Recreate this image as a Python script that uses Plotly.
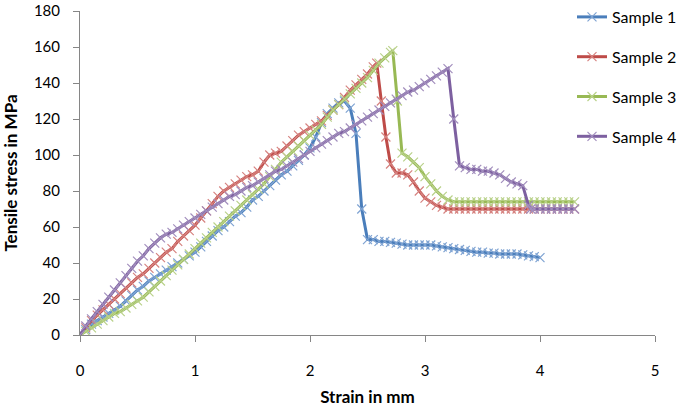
import plotly.graph_objects as go

# ---- Data ----
s1_x = [0, 0.05, 0.1, 0.15, 0.2, 0.25, 0.3, 0.35, 0.4, 0.45, 0.5, 0.55, 0.6, 0.65, 0.7, 0.75, 0.8, 0.85, 0.9, 0.95,
        1.0, 1.05, 1.1, 1.15, 1.2, 1.25, 1.3, 1.35, 1.4, 1.45, 1.5, 1.55, 1.6, 1.65, 1.7, 1.75, 1.8, 1.85, 1.9, 1.95,
        2.0, 2.05, 2.1, 2.15, 2.2, 2.25, 2.3, 2.35, 2.4, 2.45, 2.5, 2.55, 2.6, 2.65, 2.7, 2.75, 2.8, 2.85, 2.9, 2.95,
        3.0, 3.05, 3.1, 3.15, 3.2, 3.25, 3.3, 3.35, 3.4, 3.45, 3.5, 3.55, 3.6, 3.65, 3.7, 3.75, 3.8, 3.85, 3.9, 3.95, 4.0]
s1_y = [0, 3, 6, 8, 10, 12, 14, 16, 19, 22, 25, 27, 30, 32, 34, 36, 38, 40, 42, 44,
        46, 49, 52, 55, 58, 60, 63, 66, 68, 71, 75, 77, 80, 83, 86, 89, 91, 94, 97, 100,
        104, 110, 118, 123, 126, 129, 130, 126, 112, 70, 53, 53, 52, 52, 51.5, 51, 50.5, 50, 50, 50,
        50, 50, 49.5, 49, 48.5, 48, 47.5, 47, 46.5, 46, 46, 45.5, 45.5, 45, 45, 45, 45, 44.5, 44, 43.5, 43]

s2_x = [0, 0.05, 0.1, 0.15, 0.2, 0.25, 0.3, 0.35, 0.4, 0.45, 0.5, 0.55, 0.6, 0.65, 0.7, 0.75, 0.8, 0.85, 0.9, 0.95,
        1.0, 1.05, 1.1, 1.15, 1.2, 1.25, 1.3, 1.35, 1.4, 1.45, 1.5, 1.55, 1.6, 1.65, 1.7, 1.75, 1.8, 1.85, 1.9, 1.95,
        2.0, 2.05, 2.1, 2.15, 2.2, 2.25, 2.3, 2.35, 2.4, 2.45, 2.5, 2.55, 2.58, 2.62, 2.66, 2.7, 2.75, 2.8, 2.85, 2.9,
        2.95, 3.0, 3.05, 3.1, 3.15, 3.2, 3.25, 3.3, 3.35, 3.4, 3.45, 3.5, 3.55, 3.6, 3.65, 3.7, 3.75, 3.8, 3.85, 3.9,
        3.95, 4.0, 4.05, 4.1, 4.15, 4.2, 4.25, 4.3]
s2_y = [0, 4, 8, 11, 14, 17, 20, 23, 26, 29, 32, 34, 37, 40, 43, 46, 48, 52, 55, 58,
        61, 65, 69, 73, 77, 80, 82, 84, 86, 88, 89, 91, 96, 100, 101, 102, 105, 108, 111, 113,
        115, 117, 119, 122, 125, 128, 132, 136, 139, 142, 145, 149, 151, 130, 110, 95, 90, 90, 89, 85,
        80, 76, 74, 72, 71, 70, 70, 70, 70, 70, 70, 70, 70, 70, 70, 70, 70, 70, 70, 70,
        70, 70, 70, 70, 70, 70, 70, 70]

s3_x = [0, 0.05, 0.1, 0.15, 0.2, 0.25, 0.3, 0.35, 0.4, 0.45, 0.5, 0.55, 0.6, 0.65, 0.7, 0.75, 0.8, 0.85, 0.9, 0.95,
        1.0, 1.05, 1.1, 1.15, 1.2, 1.25, 1.3, 1.35, 1.4, 1.45, 1.5, 1.55, 1.6, 1.65, 1.7, 1.75, 1.8, 1.85, 1.9, 1.95,
        2.0, 2.05, 2.1, 2.15, 2.2, 2.25, 2.3, 2.35, 2.4, 2.45, 2.5, 2.55, 2.6, 2.65, 2.7, 2.72, 2.76, 2.8, 2.85, 2.9,
        2.95, 3.0, 3.05, 3.1, 3.15, 3.2, 3.25, 3.3, 3.35, 3.4, 3.45, 3.5, 3.55, 3.6, 3.65, 3.7, 3.75, 3.8, 3.85, 3.9,
        3.95, 4.0, 4.05, 4.1, 4.15, 4.2, 4.25, 4.3]
s3_y = [0, 2, 4, 6, 8, 10, 12, 13, 15, 17, 19, 21, 24, 27, 30, 33, 36, 39, 42, 45,
        48, 51, 54, 57, 60, 63, 66, 69, 72, 75, 78, 81, 84, 88, 92, 96, 99, 102, 105, 108,
        111, 114, 117, 121, 125, 128, 131, 134, 137, 140, 143, 147, 151, 154, 157, 158, 130, 101, 99, 96,
        93, 88, 84, 80, 77, 75, 74, 74, 74, 74, 74, 74, 74, 74, 74, 74, 74, 74, 74, 74,
        74, 74, 74, 74, 74, 74, 74, 74]

s4_x = [0, 0.05, 0.1, 0.15, 0.2, 0.25, 0.3, 0.35, 0.4, 0.45, 0.5, 0.55, 0.6, 0.65, 0.7, 0.75, 0.8, 0.85, 0.9, 0.95,
        1.0, 1.05, 1.1, 1.15, 1.2, 1.25, 1.3, 1.35, 1.4, 1.45, 1.5, 1.55, 1.6, 1.65, 1.7, 1.75, 1.8, 1.85, 1.9, 1.95,
        2.0, 2.05, 2.1, 2.15, 2.2, 2.25, 2.3, 2.35, 2.4, 2.45, 2.5, 2.55, 2.6, 2.65, 2.7, 2.75, 2.8, 2.85, 2.9, 2.95,
        3.0, 3.05, 3.1, 3.15, 3.2, 3.25, 3.3, 3.35, 3.4, 3.45, 3.5, 3.55, 3.6, 3.65, 3.7, 3.75, 3.8, 3.85, 3.9, 3.92,
        3.95, 4.0, 4.05, 4.1, 4.15, 4.2, 4.25, 4.3]
s4_y = [0, 5, 9, 13, 17, 21, 25, 29, 33, 37, 41, 44, 48, 51, 54, 56, 57, 59, 61, 63,
        65, 67, 69, 71, 73, 75, 77, 78, 80, 82, 83, 85, 87, 89, 91, 92, 94, 96, 98, 100,
        102, 104, 106, 108, 110, 112, 113, 115, 117, 119, 121, 123, 125, 127, 129, 131, 133, 135, 136, 138,
        140, 142, 144, 146, 148, 120, 94, 93, 92, 92, 91, 91, 90, 89, 87, 85, 84, 83, 72, 70,
        70, 70, 70, 70, 70, 70, 70, 70]

series_names = ["Sample 1", "Sample 2", "Sample 3", "Sample 4"]
series_x = [s1_x, s2_x, s3_x, s4_x]
series_y = [s1_y, s2_y, s3_y, s4_y]
line_colors = ["#4A7EBB", "#BE4B48", "#98B954", "#7D60A0"]
marker_colors = ["#7FA3D2", "#D68380", "#B9D18A", "#A28EBD"]

x_ticks = [0, 1, 2, 3, 4, 5]
y_ticks = [0, 20, 40, 60, 80, 100, 120, 140, 160, 180]

fig = go.Figure()
for i, (name, xs, ys) in enumerate(zip(series_names, series_x, series_y)):
    fig.add_trace(go.Scatter(
        x=xs, y=ys, name=name, mode="lines+markers",
        legendgroup=name,
        line=dict(color=line_colors[i], width=3),
        marker=dict(symbol="x-thin", size=9, color=marker_colors[i],
                    line=dict(color=marker_colors[i], width=1.2)),
    ))

axis_common = dict(
    showgrid=False, zeroline=False, showline=True, linecolor="#868686", linewidth=1,
    ticks="outside", ticklen=6, tickcolor="#868686",
    tickfont=dict(family="Lato", size=15, color="#000000"),
    ticklabeloverflow="allow",
)

fig.update_layout(
    width=685, height=407,
    margin=dict(l=80, r=30, t=11, b=72, autoexpand=False),
    paper_bgcolor="white", plot_bgcolor="white",
    font=dict(family="Lato", color="#000000"),
    xaxis=dict(range=[0, 5], tickvals=x_ticks, ticklabelstandoff=16, automargin=False,
               title=dict(text="<b>Strain in mm</b>", font=dict(family="Lato", size=17), standoff=13),
               **axis_common),
    yaxis=dict(range=[0, 180], tickvals=y_ticks, ticklabelstandoff=10, automargin=False,
               title=dict(text="<b>Tensile stress in MPa</b>", font=dict(family="Lato", size=17), standoff=12),
               **axis_common),
    legend=dict(xref="container", yref="container", x=572 / 685, y=1.0,
                xanchor="left", yanchor="top", bgcolor="rgba(0,0,0,0)",
                font=dict(family="Lato", size=16), tracegroupgap=16, traceorder="grouped"),
)

fig.write_html("out.html", config={"displayModeBar": False},
               post_script="document.body.style.margin='0';")
